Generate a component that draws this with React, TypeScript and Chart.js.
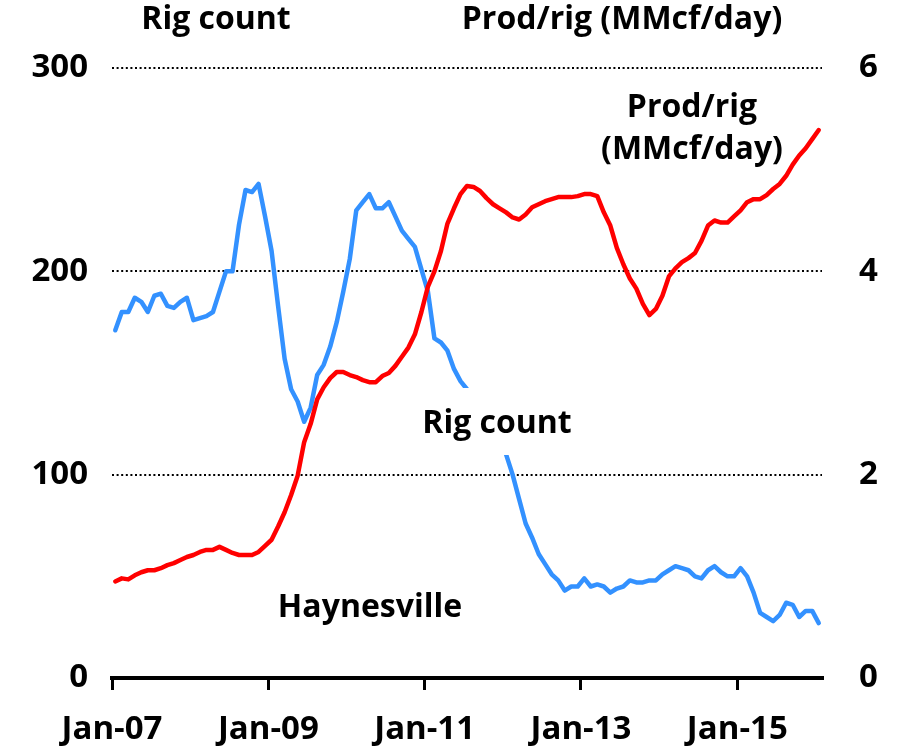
import React, { useEffect, useRef } from "react";
import { Chart, registerables } from "chart.js";

Chart.register(...registerables);

// Monthly series, Jan-07 .. Jan-16 (index 0 = Jan-07)
const RIG_COUNT = [
  171, 180, 180, 187, 185, 180, 188, 189, 183, 182,
  185, 187, 176, 177, 178, 180, 190, 200, 200, 223,
  240, 239, 243, 227, 210, 183, 157, 142, 136, 126,
  133, 149, 154, 163, 175, 190, 206, 230, 234, 238,
  231, 231, 234, 227, 220, 216, 212, 201, 190, 167,
  165, 161, 152, 146, 142, 137, 132, 127, 121, 116,
  110, 100, 88, 76, 69, 61, 56, 51, 48, 43,
  45, 45, 49, 45, 46, 45, 42, 44, 45, 48,
  47, 47, 48, 48, 51, 53, 55, 54, 53, 50,
  49, 53, 55, 52, 50, 50, 54, 50, 42, 32,
  30, 28, 31, 37, 36, 30, 33, 33, 27,
];

const PROD_PER_RIG = [
  0.95, 0.98, 0.97, 1.01, 1.04, 1.06, 1.06, 1.08, 1.11, 1.13,
  1.16, 1.19, 1.21, 1.24, 1.26, 1.26, 1.29, 1.26, 1.23, 1.21,
  1.21, 1.21, 1.24, 1.3, 1.36, 1.49, 1.63, 1.8, 1.99, 2.32,
  2.5, 2.74, 2.86, 2.95, 3.01, 3.01, 2.98, 2.96, 2.93, 2.91,
  2.91, 2.97, 3.0, 3.07, 3.16, 3.25, 3.38, 3.6, 3.85, 4.0,
  4.2, 4.47, 4.62, 4.76, 4.84, 4.83, 4.79, 4.72, 4.66, 4.62,
  4.58, 4.53, 4.51, 4.56, 4.63, 4.66, 4.69, 4.71, 4.73, 4.73,
  4.73, 4.74, 4.76, 4.76, 4.74, 4.58, 4.45, 4.23, 4.07, 3.93,
  3.83, 3.68, 3.57, 3.63, 3.76, 3.95, 4.03, 4.09, 4.13, 4.18,
  4.3, 4.45, 4.5, 4.48, 4.48, 4.54, 4.6, 4.68, 4.71, 4.71,
  4.75, 4.81, 4.86, 4.94, 5.05, 5.14, 5.21, 5.3, 5.39,
];

const MONTH_SPAN = 109;
const X_TICK_MONTHS = [0, 24, 48, 72, 96];
const X_TICK_LABELS = ["Jan-07", "Jan-09", "Jan-11", "Jan-13", "Jan-15"];
const LEFT_TICKS = [0, 100, 200, 300];
const RIGHT_TICKS = [0, 2, 4, 6];
const GRID_VALUES = [100, 200, 300];

const FONT_FAMILY = '"Open Sans", sans-serif';
const BLUE = "#3391FF";
const RED = "#FF0000";

const overlayPlugin = {
  id: "overlay",
  beforeDatasetsDraw(chart: any) {
    const { ctx, chartArea, scales } = chart;
    ctx.save();
    ctx.strokeStyle = "#000";
    ctx.lineWidth = 2;
    ctx.setLineDash([2, 2.6]);
    for (const v of GRID_VALUES) {
      const y = Math.round(scales.y.getPixelForValue(v));
      ctx.beginPath();
      ctx.moveTo(chartArea.left, y);
      ctx.lineTo(chartArea.right, y);
      ctx.stroke();
    }
    ctx.restore();
  },
  afterDatasetsDraw(chart: any) {
    const { ctx } = chart;
    ctx.save();
    // mask behind the in-plot "Rig count" label
    ctx.fillStyle = "#fff";
    ctx.fillRect(408, 388, 178, 67);
    ctx.fillStyle = "#000";
    ctx.font = `bold 32px ${FONT_FAMILY}`;
    ctx.textAlign = "center";
    ctx.textBaseline = "middle";
    ctx.fillText("Rig count", 216, 20);
    ctx.fillText("Prod/rig (MMcf/day)", 622, 20);
    ctx.fillText("Prod/rig", 692, 108);
    ctx.fillText("(MMcf/day)", 692, 150);
    ctx.fillText("Rig count", 497, 424);
    ctx.fillText("Haynesville", 370, 608);
    ctx.restore();
  },
};

export default function App() {
  const canvasRef = useRef<HTMLCanvasElement | null>(null);

  useEffect(() => {
    if (!canvasRef.current) return;
    const rigPts = RIG_COUNT.map((v, i) => ({ x: i + 0.5, y: v }));
    const prodPts = PROD_PER_RIG.map((v, i) => ({ x: i + 0.5, y: v }));
    const tickFont = { family: FONT_FAMILY, size: 33, weight: "bold" as const };

    const chart = new Chart(canvasRef.current, {
      type: "line",
      data: {
        datasets: [
          {
            label: "Prod/rig (MMcf/day)",
            data: prodPts,
            yAxisID: "y1",
            borderColor: RED,
            borderWidth: 4.5,
            pointRadius: 0,
            tension: 0,
            fill: false,
            borderJoinStyle: "round",
            borderCapStyle: "round",
          },
          {
            label: "Rig count",
            data: rigPts,
            yAxisID: "y",
            borderColor: BLUE,
            borderWidth: 4.5,
            pointRadius: 0,
            tension: 0,
            fill: false,
            borderJoinStyle: "round",
            borderCapStyle: "round",
          },
        ],
      },
      options: {
        responsive: false,
        animation: false,
        events: [],
        layout: { padding: { top: 68, left: 0, right: 0, bottom: 0 } },
        plugins: { legend: { display: false }, tooltip: { enabled: false }, title: { display: false } },
        scales: {
          x: {
            type: "linear",
            position: "bottom",
            min: 0,
            max: MONTH_SPAN,
            afterBuildTicks: (s: any) => {
              s.ticks = X_TICK_MONTHS.map((v) => ({ value: v }));
            },
            afterFit: (s: any) => {
              s.height = 69;
            },
            ticks: {
              autoSkip: false,
              maxRotation: 0,
              color: "#000",
              font: tickFont,
              padding: 20,
              callback: (v: any) => {
                const idx = X_TICK_MONTHS.indexOf(Number(v));
                return idx >= 0 ? X_TICK_LABELS[idx] : "";
              },
            },
            grid: {
              display: true,
              drawOnChartArea: false,
              drawTicks: true,
              tickLength: 12,
              tickWidth: 3,
              tickColor: "#000",
              color: "#000",
              lineWidth: 3,
            },
            border: { display: true, color: "#000", width: 4 },
          },
          y: {
            type: "linear",
            position: "left",
            min: 0,
            max: 300,
            afterBuildTicks: (s: any) => {
              s.ticks = LEFT_TICKS.map((v) => ({ value: v }));
            },
            afterFit: (s: any) => {
              s.width = 112;
            },
            ticks: { color: "#000", font: tickFont, padding: 24 },
            grid: { display: false, drawTicks: false },
            border: { display: false },
          },
          y1: {
            type: "linear",
            position: "right",
            min: 0,
            max: 6,
            afterBuildTicks: (s: any) => {
              s.ticks = RIGHT_TICKS.map((v) => ({ value: v }));
            },
            afterFit: (s: any) => {
              s.width = 75;
            },
            ticks: { color: "#000", font: tickFont, padding: 37 },
            grid: { display: false, drawTicks: false },
            border: { display: false },
          },
        },
      },
      plugins: [overlayPlugin],
    });
    return () => chart.destroy();
  }, []);

  return (
    <div style={{ position: "fixed", left: 0, top: 0, width: 897, height: 747, background: "#fff" }}>
      <canvas ref={canvasRef} width={897} height={747} style={{ display: "block" }} />
    </div>
  );
}
